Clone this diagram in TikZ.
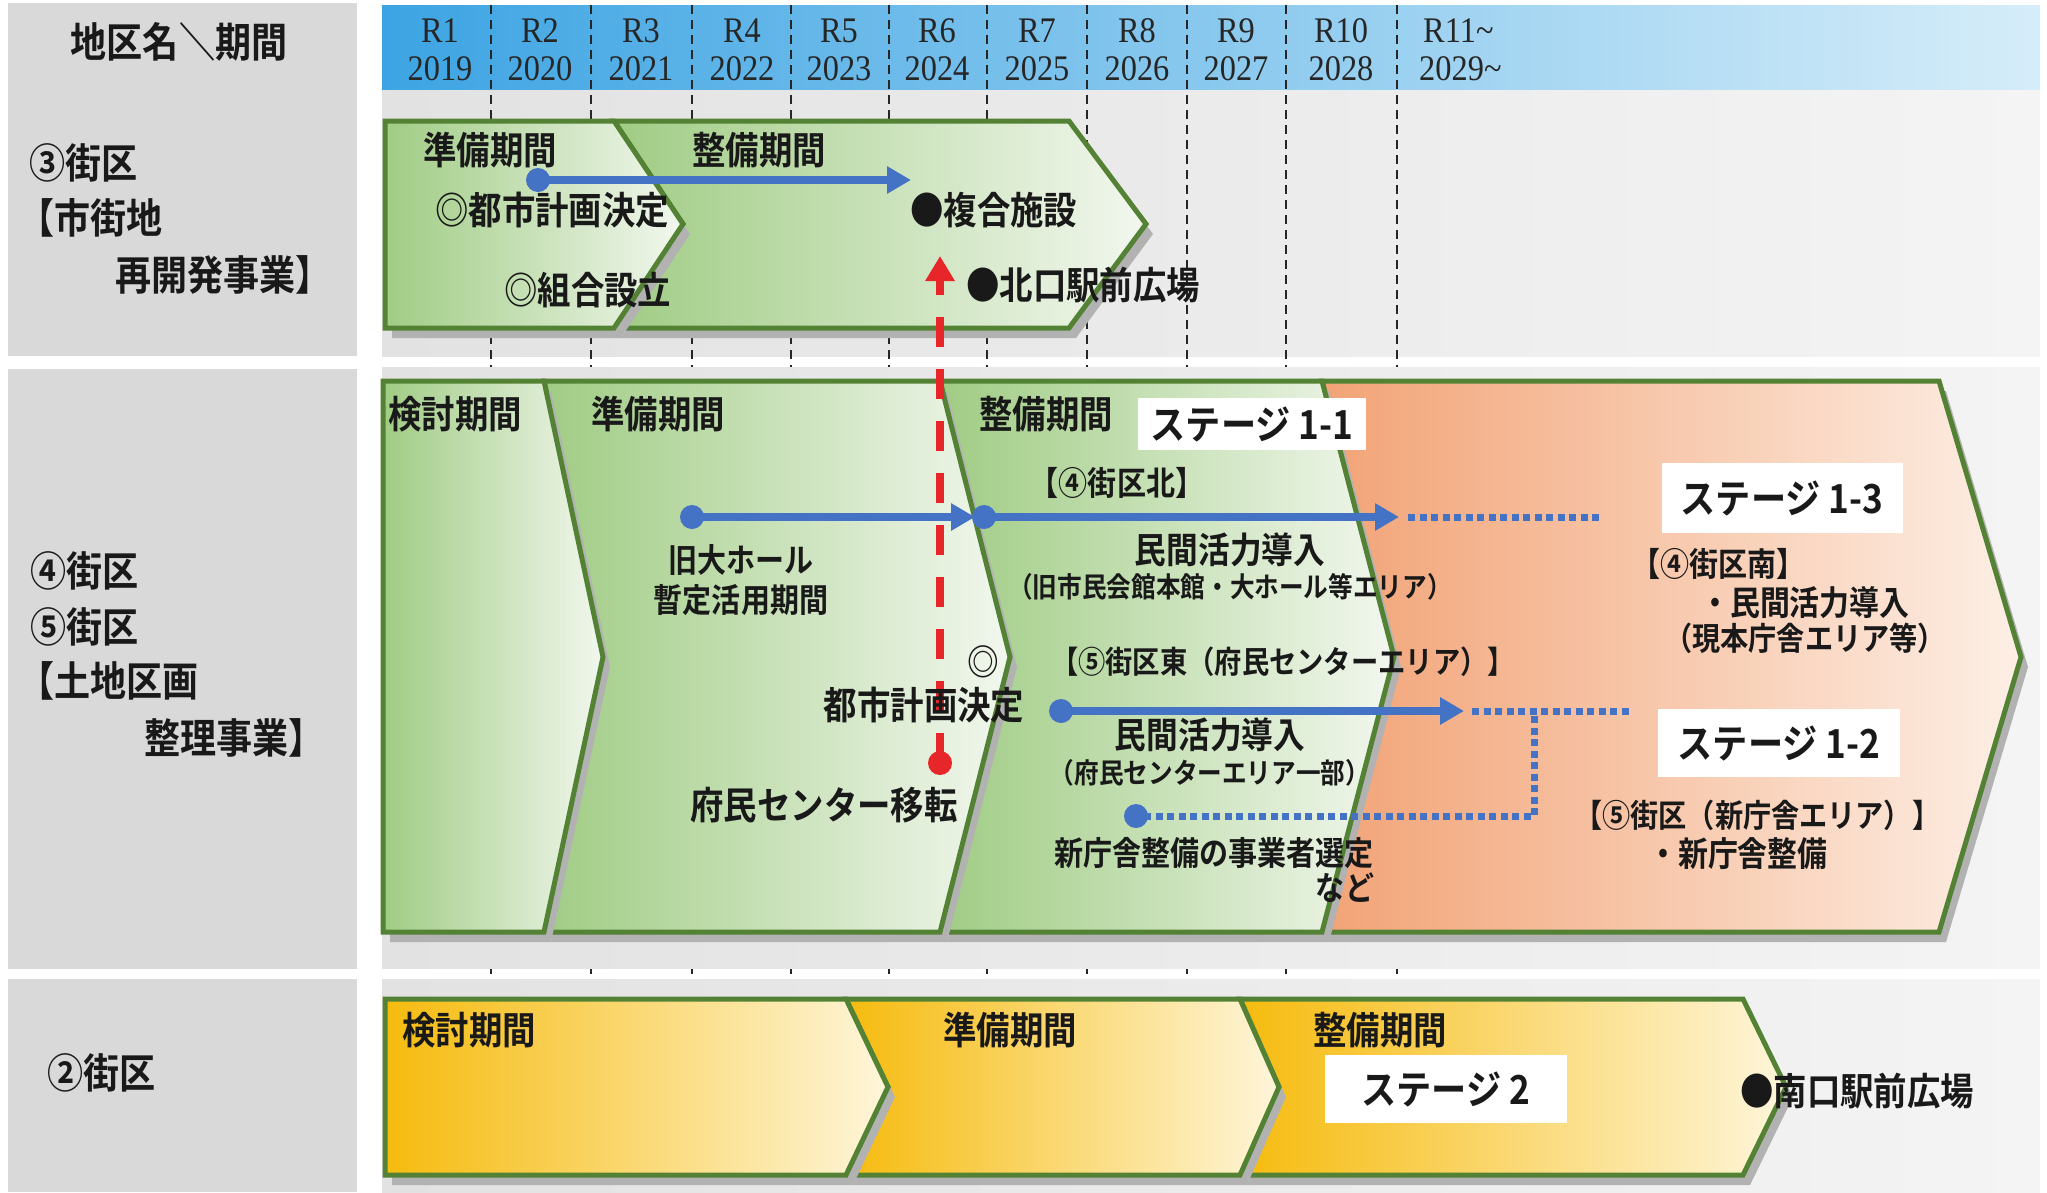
\documentclass[tikz,border=0pt]{standalone}
\usepackage{fontspec}
\usetikzlibrary{arrows.meta}
\newfontfamily\jp{Noto Sans CJK JP Bold}[FakeStretch=0.88]
\newfontfamily\yr{Liberation Serif}[FakeStretch=0.9]
\definecolor{cgreen}{HTML}{548235}
\definecolor{gL}{HTML}{A0CC84}
\definecolor{gR}{HTML}{F2F7EE}
\definecolor{oL}{HTML}{F2A376}
\definecolor{oR}{HTML}{FDEFE5}
\definecolor{yL}{HTML}{F6BB0E}
\definecolor{yR}{HTML}{FEF6DA}
\definecolor{cblue}{HTML}{4472C4}
\definecolor{cred}{HTML}{E62628}
\definecolor{hL}{HTML}{3DA4E3}
\definecolor{hM}{HTML}{80C6EF}
\definecolor{hR}{HTML}{D6EDF9}
\definecolor{lbox}{HTML}{D9D9D9}
\definecolor{pL}{HTML}{E2E2E2}
\definecolor{pR}{HTML}{F4F4F4}
\newcommand\fz[1]{\fontsize{#1}{#1}\selectfont}
\newcommand\chev[2]{\fill[black!30,shift={(7,10)}] #2; \draw[chevline,#1] #2;}
\begin{document}
\begin{tikzpicture}[x=1pt,y=-1pt,
  chevline/.style={draw=cgreen,line width=5pt,line join=miter},
  grn/.style={left color=gL,right color=gR},
  org/.style={left color=oL,right color=oR},
  ylw/.style={left color=yL,right color=yR},
  jt/.style={font=\jp\fz{#1},inner sep=0pt,text=black!90},
  yt/.style={font=\yr\fz{36},inner sep=0pt,text=black!85},
  yline/.style={draw=black!85,line width=2pt,dash pattern=on 9pt off 6pt},
  bline/.style={draw=cblue,line width=8pt},
  barrow/.style={bline,-{Triangle[length=24pt,width=26pt]}},
  bdots/.style={draw=cblue,line width=7pt,dash pattern=on 7pt off 4.5pt},
  bdot/.style={circle,fill=cblue,inner sep=0pt,minimum size=24pt},
  rdot/.style={circle,fill=cred,inner sep=0pt,minimum size=24pt},
  stagebox/.style={fill=white,font=\jp\fz{40},inner sep=0pt,text=black!90}
]
\useasboundingbox (0,0) rectangle (2047,1192);
% left label boxes
\fill[lbox] (8,3) rectangle (357,356);
\fill[lbox] (8,369) rectangle (357,969);
\fill[lbox] (8,979) rectangle (357,1192);
% header band
\shade[left color=hL,middle color=hM,right color=hR] (382,5) rectangle (2040,90);
% row 1 panel
\shade[left color=pL,right color=pR] (382,90) rectangle (2040,356);
% year lines
\foreach \x in {491,591,692,791,889,987,1087,1187,1286,1397}
  \draw[yline] (\x,5) -- (\x,979);
% row 2, row 3 panels
\shade[left color=pL,right color=pR] (382,367) rectangle (2040,968);
\shade[left color=pL,right color=pR] (382,979) rectangle (2040,1192);

% row 1 chevrons
\chev{grn}{(614,121) -- (1069,121) -- (1146,224) -- (1069,328) -- (614,328) -- (683,224) -- cycle}
\chev{grn}{(385,121) -- (614,121) -- (683,224) -- (614,328) -- (385,328) -- cycle}
% row 2 chevrons
\chev{org}{(1322,381) -- (1939,381) -- (2021,657) -- (1939,932) -- (1322,932) -- (1394,657) -- cycle}
\chev{grn}{(940,381) -- (1322,381) -- (1394,657) -- (1322,932) -- (940,932) -- (1010,657) -- cycle}
\chev{grn}{(544,381) -- (940,381) -- (1010,657) -- (940,932) -- (544,932) -- (603,657) -- cycle}
\chev{grn}{(383,381) -- (544,381) -- (603,657) -- (544,932) -- (383,932) -- cycle}
% row 3 chevrons
\chev{ylw}{(1240,999) -- (1743,999) -- (1786,1087) -- (1743,1175) -- (1240,1175) -- (1279,1087) -- cycle}
\chev{ylw}{(846,999) -- (1240,999) -- (1279,1087) -- (1240,1175) -- (846,1175) -- (888,1087) -- cycle}
\chev{ylw}{(385,999) -- (846,999) -- (888,1087) -- (846,1175) -- (385,1175) -- cycle}

% header texts
\node[jt=41] (hd) at (179,42) {地区名＼期間};
\foreach \n/\x/\y in {1/440/2019,2/540/2020,3/641/2021,4/742/2022,5/839/2023,6/937/2024,7/1037/2025,8/1137/2026,9/1236/2027,10/1341/2028}{
  \node[yt] (r\n) at (\x,31) {R\n};
  \node[yt] (y\n) at (\x,69) {\y};
}
\node[yt,anchor=west] (r11) at (1423,31) {R11\textasciitilde};
\node[yt,anchor=west] (y11) at (1419,69) {2029\textasciitilde};

% left labels
\node[jt=41,anchor=west] (l1a) at (29,163) {③街区};
\node[jt=41,anchor=west] (l1b) at (18,218) {【市街地};
\node[jt=41,anchor=west] (l1c) at (115,275) {再開発事業】};
\node[jt=41,anchor=west] (l2a) at (30,571) {④街区};
\node[jt=41,anchor=west] (l2b) at (30,627) {⑤街区};
\node[jt=41,anchor=west] (l2c) at (18,681) {【土地区画};
\node[jt=41,anchor=west] (l2d) at (144,738) {整理事業】};
\node[jt=41,anchor=west] (l3a) at (47,1073) {②街区};

% red dashed arrow
\node[rdot] (rd) at (940,763) {};
\coordinate (rt) at (940,256);
\draw[draw=cred,line width=8pt,dash pattern=on 30pt off 22pt,-{Triangle[length=25pt,width=28pt]}] (rd.center) -- (rt);

% row 1 texts
\node[jt=38] (p1a) at (490,150) {準備期間};
\node[jt=38] (p1b) at (759,150) {整備期間};
\node[bdot] (b1s) at (538,180) {};
\coordinate (b1e) at (911,180);
\draw[barrow] (b1s.center) -- (b1e);
\node[jt=38,anchor=west] (t1a) at (435,210) {◎都市計画決定};
\node[jt=38,anchor=west] (t1b) at (910,210) {●複合施設};
\node[jt=38,anchor=west] (t1c) at (504,290) {◎組合設立};
\node[jt=38,anchor=west] (t1d) at (966,285) {●北口駅前広場};

% row 2 texts
\node[jt=38,anchor=west] (p2a) at (388,414) {検討期間};
\node[jt=38,anchor=west] (p2b) at (591,414) {準備期間};
\node[jt=38,anchor=west] (p2c) at (979,414) {整備期間};
\node[stagebox,minimum width=228pt,minimum height=52pt] (s11) at (1252,424) {ステージ 1-1};
\node[jt=33] (t2a) at (1117,483) {【④街区北】};
\node[bdot] (b2s) at (692,517) {};
\coordinate (b2e) at (975,517);
\draw[barrow] (b2s.center) -- (b2e);
\node[bdot] (b3s) at (984,517) {};
\coordinate (b3e) at (1399,517);
\draw[barrow] (b3s.center) -- (b3e);
\coordinate (b3f) at (1408,517);
\coordinate (b3g) at (1603,517);
\draw[bdots] (b3f) -- (b3g);
\node[jt=33] (t2b) at (741,560) {旧大ホール};
\node[jt=33] (t2c) at (741,600) {暫定活用期間};
\node[jt=36] (t2d) at (1230,550) {民間活力導入};
\node[jt=28] (t2e) at (1230,587) {（旧市民会館本館・大ホール等エリア）};
\node[jt=36] (t2f) at (983,662) {◎};
\node[jt=31] (t2g) at (1283,662) {【⑤街区東（府民センターエリア）】};
\node[jt=38] (t2h) at (924,705) {都市計画決定};
\node[bdot] (b4s) at (1061,711) {};
\coordinate (b4e) at (1464,711);
\draw[barrow] (b4s.center) -- (b4e);
\coordinate (b4f) at (1472,711);
\coordinate (b4g) at (1632,711);
\draw[bdots] (b4f) -- (b4g);
\node[bdot] (b5s) at (1136,816) {};
\coordinate (b5a) at (1534,716);
\coordinate (b5b) at (1534,816);
\draw[bdots] (b5a) -- (b5b) -- (b5s.center);
\node[jt=36] (t2i) at (1210,735) {民間活力導入};
\node[jt=28] (t2j) at (1210,773) {（府民センターエリア一部）};
\node[jt=38] (t2k) at (824,805) {府民センター移転};
\node[jt=33] (t2l) at (1214,853) {新庁舎整備の事業者選定};
\node[jt=33] (t2m) at (1345,888) {など};
\node[stagebox,minimum width=241pt,minimum height=70pt] (s13) at (1782,498) {ステージ 1-3};
\node[jt=33,anchor=west] (t2n) at (1631,564) {【④街区南】};
\node[jt=34,anchor=west] (t2o) at (1700,603) {・民間活力導入};
\node[jt=32,anchor=west] (t2p) at (1664,638) {（現本庁舎エリア等）};
\node[stagebox,minimum width=242pt,minimum height=68pt] (s12) at (1779,743) {ステージ 1-2};
\node[jt=32,anchor=west] (t2q) at (1574,815) {【⑤街区（新庁舎エリア）】};
\node[jt=34,anchor=west] (t2r) at (1648,854) {・新庁舎整備};

% row 3 texts
\node[jt=38,anchor=west] (p3a) at (402,1030) {検討期間};
\node[jt=38,anchor=west] (p3b) at (943,1030) {準備期間};
\node[jt=38,anchor=west] (p3c) at (1313,1030) {整備期間};
\node[stagebox,minimum width=242pt,minimum height=68pt] (s2) at (1446,1089) {ステージ 2};
\node[jt=38,anchor=west] (t3a) at (1740,1091) {●南口駅前広場};
\end{tikzpicture}
\end{document}
